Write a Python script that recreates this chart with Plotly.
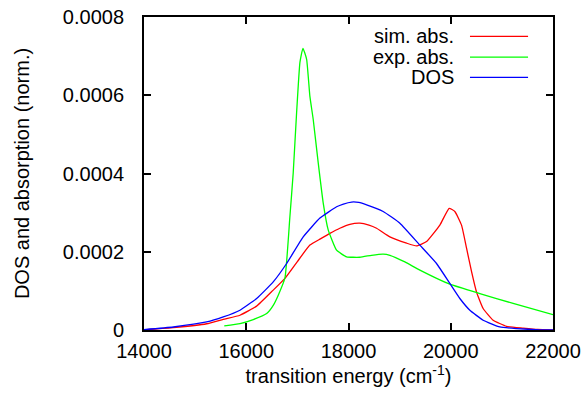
import plotly.graph_objects as go

# ---- data ----
energy_sim = [14000, 14573, 15226, 15550, 15877, 16203, 16528, 16757, 17000, 17245, 17450,
              17636, 17830, 18027, 18223, 18400, 18549, 18809, 19136, 19331, 19527, 19787, 19969,
              20080, 20211, 20309, 20407, 20504, 20634, 20829, 21091, 21416, 21700, 22000]
sim_abs = [0.5e-6, 6e-6, 1.6e-5, 2.74e-5, 3.77e-5, 6.1e-5, 1.02e-4, 1.32e-4, 1.75e-4, 2.17e-4, 2.33e-4,
           2.47e-4, 2.60e-4, 2.70e-4, 2.73e-4, 2.68e-4, 2.60e-4, 2.38e-4, 2.22e-4, 2.15e-4, 2.26e-4, 2.68e-4, 3.11e-4,
           3.03e-4, 2.68e-4, 2.09e-4, 1.49e-4, 9.7e-5, 5.5e-5, 2.5e-5, 9.5e-6, 5e-6, 1.5e-6, 0.5e-6]

energy_exp = [15570, 15877, 16137, 16399, 16528, 16626, 16757, 16854, 16919, 16985, 17050,
              17109, 17181, 17245, 17310, 17408, 17505, 17603, 17767, 17963, 18223, 18450,
              18678, 18809, 19103, 19396, 19982, 20569, 21220, 22000]
exp_abs = [1.03e-5, 1.64e-5, 2.67e-5, 4.2e-5, 6.3e-5, 8.9e-5, 1.33e-4, 2.9e-4, 4.02e-4, 5.56e-4, 6.84e-4,
           7.2e-4, 6.92e-4, 5.97e-4, 5.38e-4, 4.27e-4, 3.25e-4, 2.56e-4, 2.04e-4, 1.87e-4, 1.86e-4, 1.91e-4,
           1.94e-4, 1.91e-4, 1.74e-4, 1.53e-4, 1.17e-4, 9.3e-5, 6.8e-5, 3.9e-5]

energy_dos = [14000, 14573, 15226, 15550, 15877, 16203, 16528, 16790, 17114, 17441, 17767, 17900,
              18061, 18200, 18354, 18678, 19005, 19396, 19722, 19982, 20178, 20374, 20634,
              20960, 21286, 21740, 22000]
dos = [1e-6, 7.7e-6, 2.05e-5, 3.33e-5, 5.05e-5, 8.05e-5, 1.23e-4, 1.70e-4, 2.38e-4, 2.86e-4, 3.15e-4, 3.22e-4,
       3.27e-4, 3.26e-4, 3.20e-4, 3.03e-4, 2.73e-4, 2.17e-4, 1.70e-4, 1.19e-4, 8.05e-5, 5.05e-5, 2.5e-5,
       7.7e-6, 3.6e-6, 0.5e-6, 0.2e-6]

series_names = ["sim. abs.", "exp. abs.", "DOS"]
series_colors = ["#ff0000", "#00ff00", "#0000ff"]

x_tick_vals = [14000, 16000, 18000, 20000, 22000]
x_tick_text = ["14000", "16000", "18000", "20000", "22000"]
y_tick_vals = [0, 0.0002, 0.0004, 0.0006, 0.0008]
y_tick_text = ["0", "0.0002", "0.0004", "0.0006", "0.0008"]

FONT = "Liberation Sans, Arial, Helvetica, sans-serif"

fig = go.Figure()
for xs, ys, name, col in [(energy_sim, sim_abs, series_names[0], series_colors[0]),
                          (energy_exp, exp_abs, series_names[1], series_colors[1]),
                          (energy_dos, dos, series_names[2], series_colors[2])]:
    fig.add_trace(go.Scatter(x=xs, y=ys, mode="lines", name=name,
                             line=dict(color=col, width=1.3, shape="spline", smoothing=0.4),
                             showlegend=False))

# gnuplot-style legend: text on the left, line sample on the right
row_y = [0.938, 0.872, 0.807]
for name, col, yy in zip(series_names, series_colors, row_y):
    fig.add_annotation(xref="paper", yref="paper", x=0.763, y=yy, text=name,
                       showarrow=False, xanchor="right", yanchor="middle",
                       font=dict(family=FONT, size=20, color="black"))
    fig.add_shape(type="line", xref="paper", yref="paper", x0=0.797, x1=0.939, y0=yy, y1=yy,
                  line=dict(color=col, width=1.3))

axis_common = dict(showline=True, linecolor="black", linewidth=2, mirror="ticks",
                   ticks="inside", ticklen=7, tickwidth=2, tickcolor="black",
                   showgrid=False, zeroline=False, automargin=False,
                   tickfont=dict(family=FONT, size=20, color="black"))

fig.update_xaxes(range=[14000, 22000], tickvals=x_tick_vals, ticktext=x_tick_text,
                 ticklabelstandoff=2,
                 title=dict(text="transition energy (cm<sup>-1</sup>)", standoff=6,
                            font=dict(family=FONT, size=20, color="black")),
                 **axis_common)
fig.update_yaxes(range=[0, 0.0008], tickvals=y_tick_vals, ticktext=y_tick_text,
                 ticklabelstandoff=14,
                 title=dict(text="DOS and absorption (norm.)", standoff=28,
                            font=dict(family=FONT, size=20, color="black")),
                 **axis_common)

fig.update_layout(width=586, height=395, margin=dict(l=144, r=33, t=17, b=65),
                  paper_bgcolor="white", plot_bgcolor="white", showlegend=False)

fig.write_html("out.html", config={"displayModeBar": False},
               post_script="document.body.style.margin='0';document.body.style.overflow='hidden';")
